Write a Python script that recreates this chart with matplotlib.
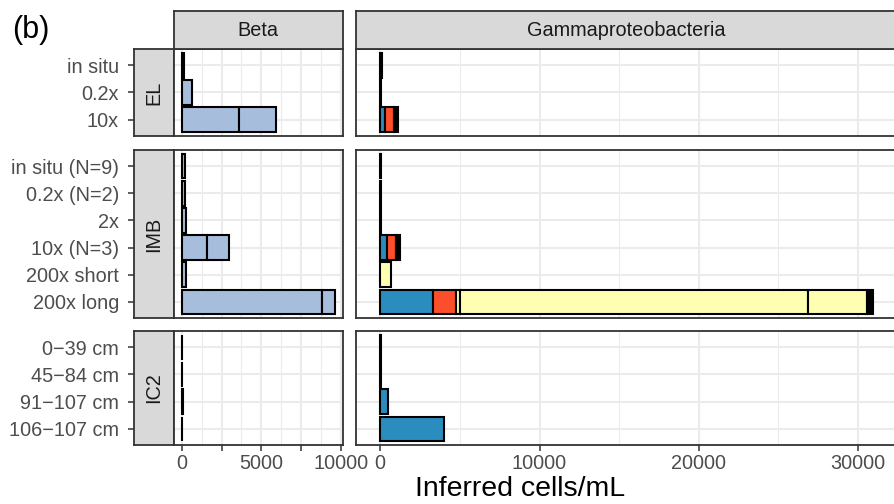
import matplotlib
matplotlib.use("Agg")
import matplotlib.pyplot as plt

plt.rcParams['font.family'] = ['Liberation Sans', 'DejaVu Sans']

# ---------------- data ----------------
groups = ["EL", "IMB", "IC2"]
panels = ["Beta", "Gammaproteobacteria"]

el_samples = ["in situ", "0.2x", "10x"]
imb_samples = ["in situ (N=9)", "0.2x (N=2)", "2x", "10x (N=3)", "200x short", "200x long"]
ic2_samples = ["0\u221239 cm", "45\u221284 cm", "91\u2212107 cm", "106\u2212107 cm"]

# Beta (single fill colour, stacked segments)
beta_seg1 = {"EL": [130, 620, 3600],
             "IMB": [230, 210, 260, 1560, 270, 8790],
             "IC2": [40, 40, 70, 40]}
beta_seg2 = {"EL": [0, 0, 2300],
             "IMB": [0, 0, 0, 1420, 0, 835],
             "IC2": [0, 0, 0, 0]}

# Gammaproteobacteria (stacked segments)
gamma_blue = {"EL": [0, 0, 310],
              "IMB": [0, 0, 0, 400, 0, 3300],
              "IC2": [0, 0, 520, 4000]}
gamma_red = {"EL": [0, 0, 560],
             "IMB": [0, 0, 0, 580, 0, 1465],
             "IC2": [0, 0, 0, 0]}
gamma_yel1 = {"EL": [0, 0, 0],
              "IMB": [0, 0, 0, 0, 670, 250],
              "IC2": [0, 0, 0, 0]}
gamma_yel2 = {"EL": [0, 0, 0],
              "IMB": [0, 0, 0, 0, 0, 21864],
              "IC2": [0, 0, 0, 0]}
gamma_yel3 = {"EL": [0, 0, 0],
              "IMB": [0, 0, 0, 0, 0, 3670],
              "IC2": [0, 0, 0, 0]}
gamma_other = {"EL": [100, 80, 270],
               "IMB": [80, 60, 60, 250, 0, 380],
               "IC2": [60, 50, 0, 0]}

beta_ticks = [0, 2500, 5000, 7500, 10000]
beta_ticklabels = ["0", "", "5000", "", "10000"]
gamma_ticks = [0, 10000, 20000, 30000]
gamma_ticklabels = ["0", "10000", "20000", "30000"]

# ---------------- styling ----------------
C_BETA = "#a6bddb"
C_BLUE = "#2b8cbe"
C_RED = "#fc4e2a"
C_YEL = "#ffffb2"
C_OTHER = "#000000"

samples = {"EL": el_samples, "IMB": imb_samples, "IC2": ic2_samples}
beta_series = [(beta_seg1, C_BETA), (beta_seg2, C_BETA)]
gamma_series = [(gamma_blue, C_BLUE), (gamma_red, C_RED), (gamma_yel1, C_YEL),
                (gamma_yel2, C_YEL), (gamma_yel3, C_YEL), (gamma_other, C_OTHER)]

W, H = 894, 504
fig = plt.figure(figsize=(W / 100, H / 100), dpi=100)

def ax_px(x0, y0, x1, y1):
    return fig.add_axes([x0 / W, 1 - y1 / H, (x1 - x0) / W, (y1 - y0) / H])

row_y = {"EL": (49, 136), "IMB": (150, 318), "IC2": (331, 445)}
col_x = {"Beta": (174, 342.7), "Gammaproteobacteria": (356, 897)}
px_per_unit = 15.93 / 1000.0
zero_px = {"Beta": 181.7, "Gammaproteobacteria": 380.2}

BORDER = "#333333"
GRID = "#ebebeb"
TICKTXT = "#4d4d4d"
FS = 14.3

for g in groups:
    y0, y1 = row_y[g]
    n = len(samples[g])
    # left strip with y ticks
    sax = ax_px(134, y0, 174, y1)
    sax.set_facecolor("#d9d9d9")
    sax.set_xlim(0, 1)
    sax.set_ylim(n - 0.4, -0.6)
    sax.set_xticks([])
    sax.set_yticks(range(n))
    sax.set_yticklabels(samples[g], fontsize=FS, color=TICKTXT)
    sax.tick_params(axis='y', length=4.3, width=1.1, color=BORDER, pad=6.5)
    for s in sax.spines.values():
        s.set_color(BORDER)
        s.set_linewidth(1.3)
    sax.text(0.5, 0.5, g, rotation=90, ha='center', va='center',
             fontsize=FS, color="#1a1a1a", transform=sax.transAxes)

    for p in panels:
        x0, x1 = col_x[p]
        ax = ax_px(x0, y0, x1, y1)
        lo = (x0 - zero_px[p]) / px_per_unit
        hi = (x1 - zero_px[p]) / px_per_unit
        ax.set_xlim(lo, hi)
        ax.set_ylim(n - 0.4, -0.6)
        ax.set_axisbelow(True)
        if p == "Beta":
            ticks, labels = beta_ticks, beta_ticklabels
            minor = [t + 1250 for t in beta_ticks[:-1]]
            series = beta_series
        else:
            ticks, labels = gamma_ticks, gamma_ticklabels
            minor = [t + 5000 for t in gamma_ticks]
            series = gamma_series
        for m in minor:
            ax.axvline(m, color=GRID, lw=0.8, zorder=0)
        for t in ticks:
            ax.axvline(t, color=GRID, lw=1.5, zorder=0)
        for i in range(n):
            ax.axhline(i, color=GRID, lw=1.5, zorder=0)
        ax.set_yticks([])
        ax.set_xticks(ticks)
        if g == "IC2":
            ax.set_xticklabels(labels, fontsize=FS, color=TICKTXT)
            ax.tick_params(axis='x', length=4.3, width=1.1, color=BORDER, pad=2.5)
        else:
            ax.tick_params(axis='x', length=0, labelbottom=False)
        for i in range(n):
            left = 0
            for data, col in series:
                v = data[g][i]
                if v > 0:
                    ax.barh(i, v, left=left, height=0.9, color=col,
                            edgecolor="black", linewidth=1.5, zorder=3)
                    left += v
        for s in ax.spines.values():
            s.set_color(BORDER)
            s.set_linewidth(1.3)
            s.set_zorder(5)

# top strips
for p in panels:
    x0, x1 = col_x[p]
    tax = ax_px(x0, 10.7, x1, 49)
    tax.set_facecolor("#d9d9d9")
    tax.set_xticks([])
    tax.set_yticks([])
    for s in tax.spines.values():
        s.set_color(BORDER)
        s.set_linewidth(1.3)
    cx = (x0 + x1) / 2
    fig.text(cx / W, 1 - 30 / H, p, ha='center', va='center', fontsize=FS, color="#1a1a1a")

fig.text(520 / W, 1 - 489 / H, "Inferred cells/mL", ha='center', va='center',
         fontsize=20.5, color="black")
fig.text(12 / W, 1 - 30 / H, "(b)", ha='left', va='center', fontsize=22, color="black")

fig.savefig("out.png", dpi=100)
